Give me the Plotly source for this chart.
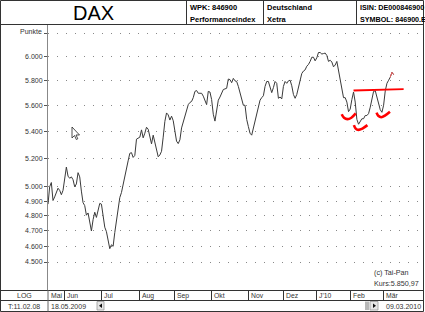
import numpy as np
import pandas as pd
import plotly.graph_objects as go

# ---------------- data ----------------
first_day = "2009-05-18"
last_day = "2010-03-09"
xetra_holidays = ["2009-12-24", "2009-12-25", "2009-12-31", "2010-01-01"]

close = [
    4880, 5000, 5030, 4905, 4930, 4965, 4990, 4975, 4945, 4975,
    5070, 5140, 5075, 5060, 5070, 5050, 5000, 5020, 5100, 5070,
    4970, 4890, 4870, 4805, 4820, 4755, 4700, 4775, 4825, 4790,
    4835, 4885, 4880, 4795, 4725, 4695, 4650, 4585, 4610, 4600,
    4690, 4775, 4870, 4925, 4960, 5010, 5060, 5115, 5185, 5240,
    5245, 5210, 5225, 5345, 5355, 5360, 5415, 5355, 5390, 5435,
    5420, 5370, 5310, 5375, 5320, 5245, 5215, 5228, 5255, 5360,
    5480, 5545, 5530, 5490, 5520, 5485, 5400, 5330, 5312, 5340,
    5430, 5480, 5515, 5580, 5610, 5627, 5635, 5665, 5715, 5722,
    5700, 5700, 5700, 5677, 5640, 5610, 5715, 5710, 5650, 5535,
    5482, 5550, 5645, 5670, 5700, 5730, 5735, 5740, 5815, 5810,
    5785, 5820, 5800, 5795, 5755, 5705, 5655, 5605, 5605, 5495,
    5440, 5390, 5375, 5430, 5475, 5540, 5610, 5645, 5665, 5680,
    5755, 5795, 5795, 5750, 5705, 5745, 5795, 5780, 5660, 5670,
    5655, 5755, 5795, 5780, 5800, 5805, 5760, 5690, 5660, 5690,
    5745, 5795, 5860, 5880, 5890, 5920, 5935, 5960, 5995, 5995,
    5965, 5990, 6035, 6035, 6022, 6026, 6030, 6010, 5960, 5970,
    5955, 5915, 5930, 5960, 5880, 5795, 5710, 5665, 5665, 5630,
    5555, 5575, 5650, 5710, 5630, 5495, 5458, 5480, 5500, 5500,
    5525, 5525, 5540, 5590, 5655, 5715, 5720, 5665, 5605, 5570,
    5550, 5605, 5720, 5780, 5805, 5830, 5870, 5851,
]

# hand-drawn red marks (trading day index, points)
neck_day = [183, 194, 213]
neck_val = [5722, 5724, 5733]
arc1_day = [175.9, 177.3, 179.3, 181.7, 184.3]
arc1_val = [5535, 5508, 5497, 5508, 5541]
arc2_day = [183.2, 184.3, 185.9, 188.3, 191.3]
arc2_val = [5451, 5425, 5415, 5425, 5451]
arc3_day = [196.8, 197.8, 199.6, 202.2, 204.8]
arc3_val = [5548, 5523, 5512, 5528, 5554]

month_periods = ["2009-05", "2009-06", "2009-07", "2009-08", "2009-09", "2009-10",
                 "2009-11", "2009-12", "2010-01", "2010-02", "2010-03"]
month_labels = ["Mai", "Jun", "Jul", "Aug", "Sep", "Okt", "Nov", "Dez", "J'10", "Feb", "Mär"]

y_ticks = [4500, 4600, 4700, 4800, 4900, 5000, 5200, 5400, 5600, 5800, 6000, 6200]
y_labels = ["4.500", "4.600", "4.700", "4.800", "4.900", "5.000", "5.200",
            "5.400", "5.600", "5.800", "6.000", ""]

# ---------------- derived ----------------
trade_days = pd.bdate_range(first_day, last_day, freq="C", holidays=xetra_holidays)
days = list(range(len(close)))
periods = trade_days.to_period("M")
month_pos = [int(np.argmax(periods == pd.Period(m))) for m in month_periods]

W, H = 425, 312
L, R, T, B = 48, 2, 25, 22
PW, PH = W - L - R, H - T - B


def X(px):
    return (px - L) / PW


def Y(py):
    return (H - B - py) / PH


FONT = "Liberation Sans, Arial, sans-serif"

fig = go.Figure()
fig.add_trace(go.Scatter(x=days, y=close, mode="lines",
                         line=dict(color="#3a3a3a", width=1), hoverinfo="skip"))
fig.add_trace(go.Scatter(x=days[-3:], y=close[-3:], mode="lines",
                         line=dict(color="#f06060", width=1), hoverinfo="skip"))
fig.add_trace(go.Scatter(x=neck_day, y=neck_val, mode="lines",
                         line=dict(color="#ff0000", width=1.8), hoverinfo="skip"))
for ad, av in [(arc1_day, arc1_val), (arc2_day, arc2_val), (arc3_day, arc3_val)]:
    fig.add_trace(go.Scatter(x=ad, y=av, mode="lines",
                             line=dict(color="#ff0000", width=2.6, shape="spline"),
                             hoverinfo="skip"))

shapes = []
lc = "#333333"


def hline(py, x0, x1, color=lc):
    shapes.append(dict(type="line", xref="paper", yref="paper", x0=X(x0), x1=X(x1),
                       y0=Y(py), y1=Y(py), line=dict(color=color, width=1)))


def vline(px, y0, y1, color=lc):
    shapes.append(dict(type="line", xref="paper", yref="paper", x0=X(px), x1=X(px),
                       y0=Y(y0), y1=Y(y1), line=dict(color=color, width=1)))


# outer frame
shapes.append(dict(type="rect", xref="paper", yref="paper", x0=X(0.5), x1=X(423.5),
                   y0=Y(311.5), y1=Y(0.5), line=dict(color=lc, width=1)))
hline(24.5, 0, 423.5)
for vx in [186.5, 263.5, 356.5]:
    vline(vx, 0, 24.5)
hline(290.5, 0, 423.5)
hline(300.5, 0, 423.5)
vline(48, 290, 311.5, color="#666666")

# scroll bar pieces
for bx0, bx1 in [(97, 104), (370, 378)]:
    shapes.append(dict(type="rect", xref="paper", yref="paper", x0=X(bx0), x1=X(bx1),
                       y0=Y(310), y1=Y(301.5), line=dict(color="#999999", width=0.8),
                       fillcolor="#e6e6e6"))
shapes.append(dict(type="rect", xref="paper", yref="paper", x0=X(365), x1=X(369),
                   y0=Y(310), y1=Y(301.5), line=dict(width=0), fillcolor="#b8b8b8"))


def path(pts):
    s = "M " + " L ".join(f"{X(a):.5f},{Y(b):.5f}" for a, b in pts) + " Z"
    return s


shapes.append(dict(type="path", xref="paper", yref="paper",
                   path=path([(99, 305.7), (102, 303.5), (102, 308)]),
                   fillcolor="#111111", line=dict(width=0)))
shapes.append(dict(type="path", xref="paper", yref="paper",
                   path=path([(373, 303.5), (373, 308), (376, 305.7)]),
                   fillcolor="#111111", line=dict(width=0)))
# mouse pointer
shapes.append(dict(type="path", xref="paper", yref="paper",
                   path=path([(72, 127), (72, 138), (74.5, 135.5), (76.3, 139.5),
                              (77.8, 138.8), (76, 135), (79.5, 135)]),
                   fillcolor="#ffffff", line=dict(color="#222222", width=0.8)))

ann = []


def text(px, py, s, size=7, anchor="left", color="#222222"):
    ann.append(dict(xref="paper", yref="paper", x=X(px), y=Y(py), text=s, showarrow=False,
                    xanchor=anchor, yanchor="middle",
                    font=dict(family=FONT, size=size, color=color)))


text(93, 13, "DAX", size=20, anchor="center", color="#000000")
text(188, 7.5, "<b>WPK: 846900</b>", size=7.5, color="#000")
text(188, 19, "<b>Performanceindex</b>", size=7.5, color="#000")
text(265, 7.5, "<b>Deutschland</b>", size=7.5, color="#000")
text(265, 19, "<b>Xetra</b>", size=7.5, color="#000")
text(358, 7.5, "<b>ISIN: DE000846900</b>", size=7.2, color="#000")
text(358, 19, "<b>SYMBOL: 846900.E</b>", size=7.2, color="#000")
text(43.5, 31, "Punkte", size=7, anchor="right", color="#333")
text(24, 295.5, "LOG", size=7, anchor="center", color="#333")
text(24, 306, "T:11.02.08", size=7, anchor="center", color="#333")
text(48.5, 306, "18.05.2009", size=7, anchor="left", color="#333")
text(422.5, 306, "09.03.2010", size=7, anchor="right", color="#333")
text(372, 272, "(c) Tai-Pan", size=7.2, color="#333")
text(372, 283.5, "Kurs:5.850,97", size=7.2, color="#333")

for pos, lab in zip(month_pos, month_labels):
    ann.append(dict(xref="x", yref="paper", x=pos, y=Y(295.5), text=lab, showarrow=False,
                    xanchor="left", yanchor="middle", xshift=0.5,
                    font=dict(family=FONT, size=6.8, color="#333")))

fig.update_layout(
    width=W, height=H, margin=dict(l=L, r=R, t=T, b=B, pad=0),
    paper_bgcolor="white", plot_bgcolor="white", showlegend=False,
    shapes=shapes, annotations=ann,
    xaxis=dict(range=[0, 224.6], showgrid=False, zeroline=False, showline=True,
               linecolor="#333333", linewidth=1, ticks="outside", ticklen=10,
               tickcolor="#333333", tickwidth=1, tickvals=month_pos[1:],
               showticklabels=False, automargin=False, fixedrange=True),
    yaxis=dict(type="log", range=[np.log10(4327), np.log10(6272)],
               tickvals=y_ticks, ticktext=y_labels, ticks="outside", ticklen=3,
               tickcolor="#555555", tickfont=dict(family=FONT, size=7, color="#333"),
               showgrid=True, gridcolor="#888888", griddash="1px,8px", gridwidth=1,
               showline=True, linecolor="#888888", zeroline=False,
               automargin=False, fixedrange=True),
)

fig.write_html("out.html", config={"displayModeBar": False})
